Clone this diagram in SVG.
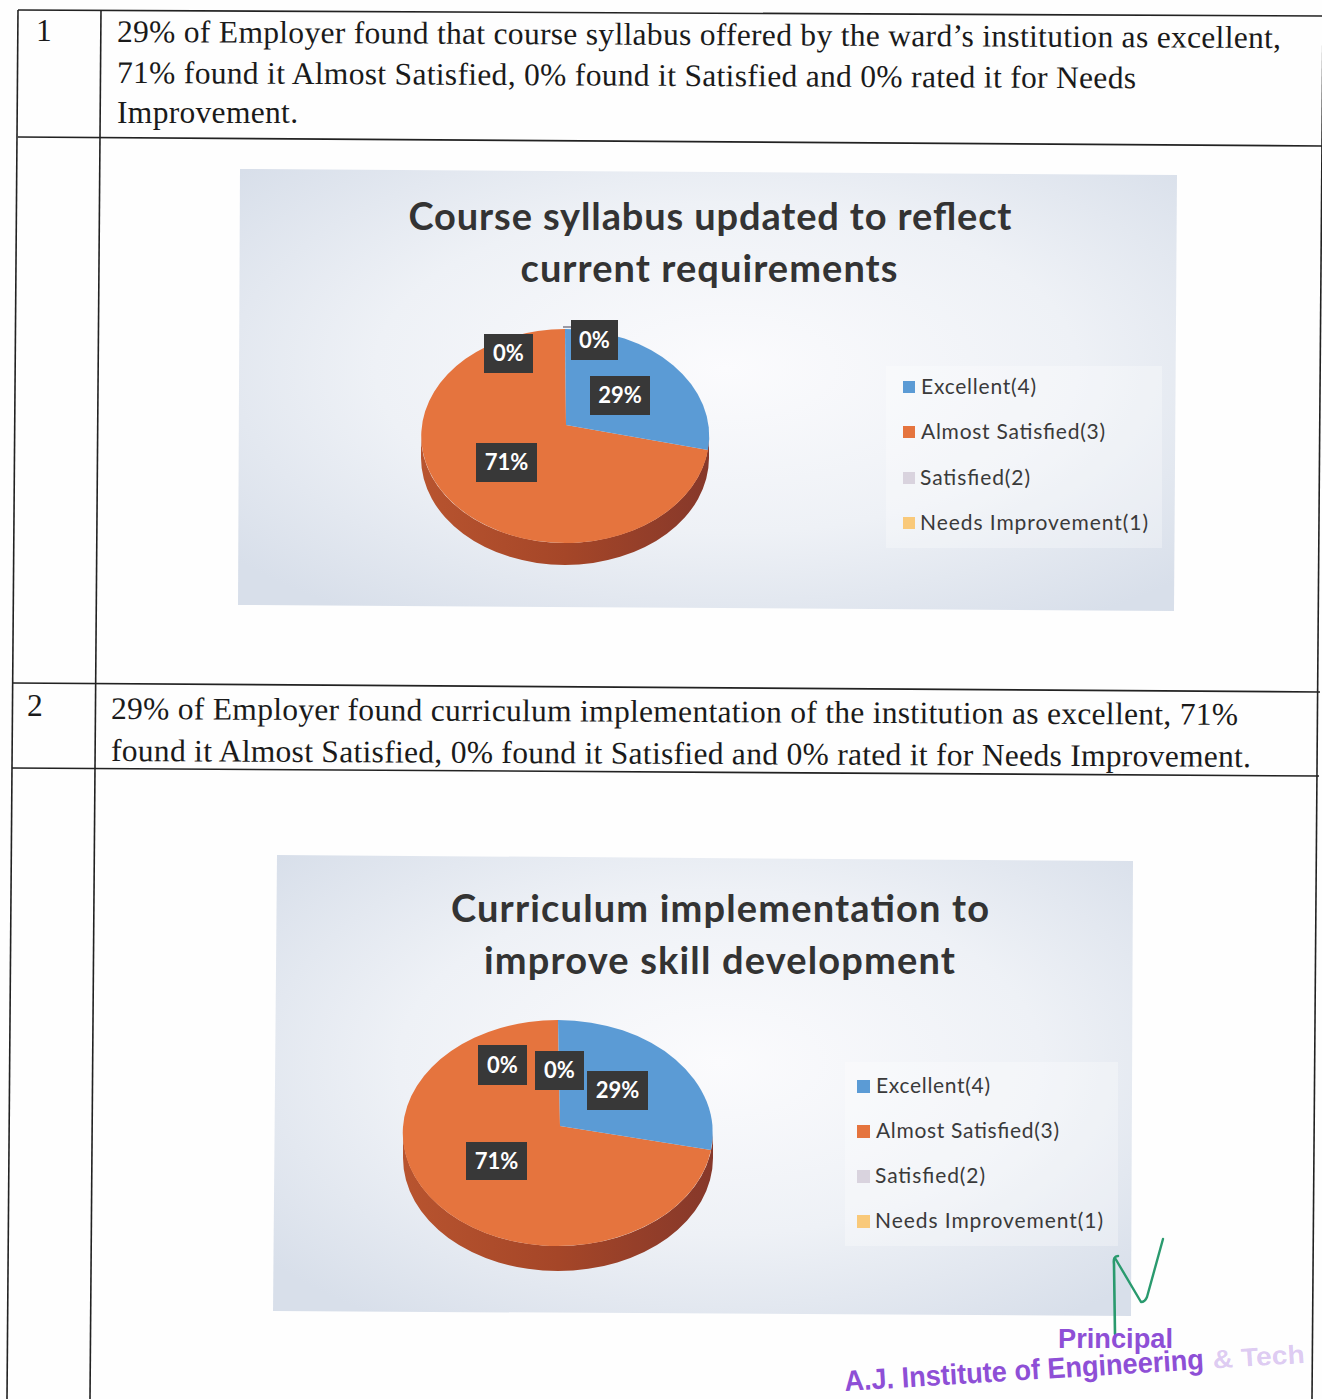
<svg xmlns="http://www.w3.org/2000/svg" width="1322" height="1399" viewBox="0 0 1322 1399">
  <defs>
    <radialGradient id="bg" cx="52%" cy="45%" r="68%">
      <stop offset="0" stop-color="#fbfbfd"/>
      <stop offset="0.55" stop-color="#eef1f6"/>
      <stop offset="1" stop-color="#d8dfea"/>
    </radialGradient>
    <linearGradient id="side" x1="0" y1="0" x2="1" y2="0">
      <stop offset="0" stop-color="#b8542f"/>
      <stop offset="0.5" stop-color="#a54628"/>
      <stop offset="1" stop-color="#86382a"/>
    </linearGradient>
    <style>
      .ln{stroke:#222;stroke-width:1.6;fill:none}
      .body{font-family:"Liberation Serif","Times New Roman",serif;font-size:31.5px;fill:#1a1a1a}
      .title{font-family:Lato,"Open Sans","Liberation Sans",sans-serif;font-weight:bold;font-size:38px;fill:#333;text-anchor:middle}
      .leg{font-family:Lato,"Open Sans","Liberation Sans",sans-serif;font-size:21px;fill:#3a3a3a}
      .lbox{fill:#383838}
      .lbl{font-family:Lato,"Open Sans","Liberation Sans",sans-serif;font-weight:bold;font-size:22px;fill:#fff;text-anchor:middle}
      .blue{fill:#5b9bd5}
      .orange{fill:#e5743e}
      .grey{fill:#d9d3de}
      .yellow{fill:#f9c97a}
      .stamp{font-family:"Liberation Sans",Arial,sans-serif;font-weight:bold;fill:#8e4fd6}
    </style>
  </defs>
  <rect width="1322" height="1399" fill="#fefefe"/>

  <g id="table">
    <line class="ln" x1="18" y1="10" x2="1323" y2="16"/>
    <line class="ln" x1="18" y1="137" x2="1323" y2="146"/>
    <line class="ln" x1="13" y1="683" x2="1320" y2="692"/>
    <line class="ln" x1="12" y1="768" x2="1319" y2="776"/>
    <line class="ln" x1="18" y1="10" x2="7" y2="1399"/>
    <line class="ln" x1="101" y1="10" x2="90" y2="1399"/>
    <line class="ln" x1="1323" y1="16" x2="1312" y2="1399"/>
  </g>

  <g id="row1-text">
    <text class="body" x="36" y="41">1</text>
    <text class="body" x="117" y="42" textLength="1164" lengthAdjust="spacing" transform="rotate(0.3 117 42)">29% of Employer found that course syllabus offered by the ward’s institution as excellent,</text>
    <text class="body" x="117" y="83" textLength="1019" lengthAdjust="spacing" transform="rotate(0.3 117 83)">71% found it Almost Satisfied, 0% found it Satisfied and 0% rated it for Needs</text>
    <text class="body" x="117" y="123" textLength="181" lengthAdjust="spacing">Improvement.</text>
  </g>

  <g id="chart1">
    <polygon points="240,169 1177,175 1174,611 238,605" fill="url(#bg)"/>
    <rect x="886" y="366" width="276" height="182" fill="#ffffff" opacity="0.3"/>
    <text class="title" x="710" y="230" textLength="603" lengthAdjust="spacing">Course syllabus updated to reflect</text>
    <text class="title" x="709" y="282" textLength="377" lengthAdjust="spacing">current requirements</text>
    <path d="M421,436 A144,107 0 0 0 709,436 L709,458 A144,107 0 0 1 421,458 Z" fill="url(#side)"/>
    <path class="orange" d="M566,425 L708,450 A144,107 0 1 1 565,329 Z"/>
    <path class="blue" d="M566,425 L565,329 A144,107 0 0 1 708,450 Z"/>
    <line x1="563" y1="327" x2="571" y2="327" stroke="#9a9aa6" stroke-width="2"/>
    <rect class="lbox" x="484" y="334" width="49" height="39"/>
    <text class="lbl" x="508.5" y="361">0%</text>
    <rect class="lbox" x="571" y="320" width="47" height="40"/>
    <text class="lbl" x="594.5" y="348">0%</text>
    <rect class="lbox" x="590" y="376" width="60" height="39"/>
    <text class="lbl" x="620" y="403">29%</text>
    <rect class="lbox" x="476" y="443" width="61" height="39"/>
    <text class="lbl" x="506.5" y="470">71%</text>
    <rect class="blue" x="903" y="381" width="12" height="12"/>
    <text class="leg" x="921" y="394" textLength="115" lengthAdjust="spacing">Excellent(4)</text>
    <rect class="orange" x="903" y="426" width="12" height="12"/>
    <text class="leg" x="921" y="439" textLength="184" lengthAdjust="spacing">Almost Satisfied(3)</text>
    <rect class="grey" x="903" y="472" width="12" height="12"/>
    <text class="leg" x="920" y="485" textLength="110" lengthAdjust="spacing">Satisfied(2)</text>
    <rect class="yellow" x="903" y="517" width="12" height="12"/>
    <text class="leg" x="920" y="530" textLength="228" lengthAdjust="spacing">Needs Improvement(1)</text>
  </g>

  <g id="row2-text">
    <text class="body" x="27" y="716">2</text>
    <text class="body" x="111" y="719" textLength="1127" lengthAdjust="spacing" transform="rotate(0.3 111 719)">29% of Employer found curriculum implementation of the institution as excellent, 71%</text>
    <text class="body" x="111" y="761" textLength="1140" lengthAdjust="spacing" transform="rotate(0.3 111 761)">found it Almost Satisfied, 0% found it Satisfied and 0% rated it for Needs Improvement.</text>
  </g>

  <g id="chart2">
    <polygon points="277,855 1133,861 1131,1316 273,1311" fill="url(#bg)"/>
    <rect x="845" y="1062" width="273" height="184" fill="#ffffff" opacity="0.3"/>
    <text class="title" x="720" y="922" textLength="538" lengthAdjust="spacing">Curriculum implementation to</text>
    <text class="title" x="719.5" y="974" textLength="471" lengthAdjust="spacing">improve skill development</text>
    <path d="M403,1133 A155,113 0 0 0 713,1133 L713,1158 A155,113 0 0 1 403,1158 Z" fill="url(#side)"/>
    <path class="orange" d="M560,1126 L711,1150 A155,113 0 1 1 558,1020 Z"/>
    <path class="blue" d="M560,1126 L558,1020 A155,113 0 0 1 711,1150 Z"/>
    <rect class="lbox" x="478" y="1045" width="49" height="40"/>
    <text class="lbl" x="502.5" y="1073">0%</text>
    <rect class="lbox" x="535" y="1051" width="49" height="39"/>
    <text class="lbl" x="559.5" y="1078">0%</text>
    <rect class="lbox" x="587" y="1071" width="61" height="39"/>
    <text class="lbl" x="617.5" y="1098">29%</text>
    <rect class="lbox" x="466" y="1142" width="61" height="38"/>
    <text class="lbl" x="496.5" y="1169">71%</text>
    <rect class="blue" x="857" y="1080" width="13" height="13"/>
    <text class="leg" x="876" y="1093" textLength="114" lengthAdjust="spacing">Excellent(4)</text>
    <rect class="orange" x="857" y="1125" width="13" height="13"/>
    <text class="leg" x="876" y="1138" textLength="183" lengthAdjust="spacing">Almost Satisfied(3)</text>
    <rect class="grey" x="857" y="1170" width="13" height="13"/>
    <text class="leg" x="875" y="1183" textLength="110" lengthAdjust="spacing">Satisfied(2)</text>
    <rect class="yellow" x="857" y="1215" width="13" height="13"/>
    <text class="leg" x="875" y="1228" textLength="228" lengthAdjust="spacing">Needs Improvement(1)</text>
  </g>

  <g id="signature">
    <path d="M1118,1256 Q1113,1256 1114,1264 L1115,1334" fill="none" stroke="#2a9a6e" stroke-width="2.6" stroke-linecap="round"/>
    <path d="M1115,1258 L1141,1302 Q1145,1302 1147,1297 L1163,1239" fill="none" stroke="#2a9a6e" stroke-width="2.4" stroke-linecap="round" stroke-linejoin="round"/>
  </g>

  <g id="stamp">
    <text class="stamp" x="1058" y="1348" font-size="27" textLength="115" lengthAdjust="spacingAndGlyphs">Principal</text>
    <g transform="rotate(-3.5 845 1391)">
      <text class="stamp" x="845" y="1391" font-size="29" textLength="360" lengthAdjust="spacingAndGlyphs">A.J. Institute of Engineering</text>
      <text class="stamp" x="1214" y="1391" font-size="26" fill-opacity="0.3" textLength="92" lengthAdjust="spacingAndGlyphs">&amp; Tech</text>
    </g>
  </g>

  <g id="connectors"/>
</svg>
